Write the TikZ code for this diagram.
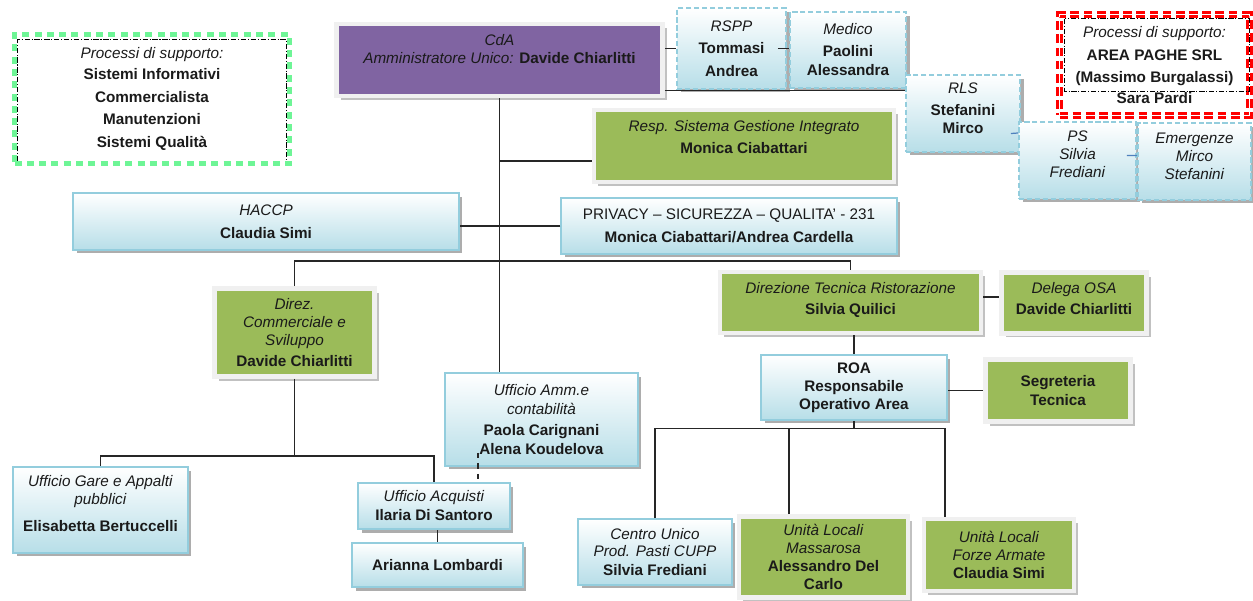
\documentclass[tikz,border=0pt]{standalone}
\usepackage{fontspec}
\setmainfont{Liberation Sans}
\usetikzlibrary{shadows}

\definecolor{textdark}{RGB}{26,26,26}
\definecolor{lineblue}{RGB}{147,205,221}
\definecolor{paleblue}{RGB}{183,222,232}
\definecolor{areagreen}{RGB}{155,187,89}
\definecolor{cdapurple}{RGB}{128,100,162}
\definecolor{framegray}{RGB}{240,240,240}
\definecolor{mint}{RGB}{110,245,150}
\definecolor{linkdark}{RGB}{38,38,38}
\definecolor{linkblue}{RGB}{79,129,189}

\tikzstyle{txt} = [font=\fontsize{8.7}{10.2}\selectfont, text=textdark, align=center, inner sep=0pt]
\tikzstyle{bluebox} = [txt, rectangle, draw=lineblue, line width=0.9pt, top color=white, bottom color=paleblue, drop shadow={shadow xshift=0.07cm, shadow yshift=-0.07cm, fill=black!40, opacity=0.8}]
\tikzstyle{dashbox} = [bluebox, line width=1.1pt, dash pattern=on 3pt off 1.5pt]
\tikzstyle{greenbox} = [txt, rectangle, fill=areagreen, draw=framegray, line width=2.8pt, drop shadow={shadow xshift=0.085cm, shadow yshift=-0.085cm, fill=black!30, opacity=0.8}]
\tikzstyle{purplebox} = [greenbox, fill=cdapurple]
\tikzstyle{supportgreen} = [txt, rectangle, draw=mint, line width=3pt, dash pattern=on 4pt off 3pt]
\tikzstyle{supportred} = [txt, rectangle, draw=red, double=white, line width=1.3pt, double distance=0.9pt, dash pattern=on 5pt off 2.5pt]
\tikzstyle{innerframe} = [draw=black, line width=0.5pt, dash pattern=on 3pt off 1pt on 0.6pt off 1pt]
\tikzstyle{link} = [draw=linkdark, line width=0.7pt]
\tikzstyle{bluelink} = [draw=linkblue, line width=0.7pt]

\begin{document}
\begin{tikzpicture}[x=0.02cm, y=-0.02cm]
  \useasboundingbox (0,0) rectangle (1253,601);

  % support processes
  \node (supL) [supportgreen, minimum width=5.5cm, minimum height=2.58cm] at (152,99) {\textit{Processi di supporto:}\\[1.7pt]\textbf{Sistemi Informativi}\\[2.8pt]\textbf{Commercialista}\\[2.8pt]\textbf{Manutenzioni}\\[2.8pt]\textbf{Sistemi Qualità}};
  \node (supR) [supportred, minimum width=3.8cm, minimum height=2.02cm] at (1154.5,65) {\textit{Processi di supporto:}\\[2.8pt]\textbf{AREA PAGHE SRL}\\[2.3pt]\textbf{(Massimo Burgalassi)}\\[1.7pt]\textbf{Sara Pardi}};
  \draw [innerframe] ([shift={(6,-5)}]supL.south west) -- ([shift={(6,8)}]supL.north west) -- ([shift={(-6,8)}]supL.north east) -- ([shift={(-6,-5)}]supL.south east);
  \draw [innerframe] ([shift={(6.5,5.5)}]supR.north west) rectangle ([shift={(-1.5,-25.5)}]supR.south east);

  % top level
  \node (cda) [purplebox, minimum width=6.52cm, minimum height=1.44cm, text depth=13pt] at (499.5,60) {\textit{CdA}\\\textit{Amministratore Unico:} \textbf{Davide Chiarlitti}};
  \node (rspp) [dashbox, minimum width=2.18cm, minimum height=1.62cm] at (731.5,48.5) {\textit{RSPP}\\[2.3pt]\textbf{Tommasi}\\[2.8pt]\textbf{Andrea}};
  \node (medico) [dashbox, minimum width=2.32cm, minimum height=1.52cm] at (848,50) {\textit{Medico}\\[2.3pt]\textbf{Paolini}\\[0.6pt]\textbf{Alessandra}};
  \node (rls) [dashbox, minimum width=2.28cm, minimum height=1.54cm, text depth=6pt] at (963,113.5) {\textit{RLS}\\[2.3pt]\textbf{Stefanini}\\\textbf{Mirco}};
  \node (ps) [dashbox, minimum width=2.34cm, minimum height=1.54cm, text depth=7pt] at (1077.5,160.5) {\textit{PS}\\\textit{Silvia}\\\textit{Frediani}};
  \node (emerg) [dashbox, minimum width=2.26cm, minimum height=1.54cm, text depth=6pt] at (1194.5,161.5) {\textit{Emergenze}\\\textit{Mirco}\\\textit{Stefanini}};
  \node (sgi) [greenbox, minimum width=6.0cm, minimum height=1.44cm, text depth=10.5pt] at (744,146) {\textit{Resp. Sistema Gestione Integrato}\\[2.3pt]\textbf{Monica Ciabattari}};
  \node (haccp) [bluebox, minimum width=7.72cm, minimum height=1.14cm] at (266,221.5) {\textit{HACCP}\\[2.8pt]\textbf{Claudia Simi}};
  \node (privacy) [bluebox, minimum width=6.72cm, minimum height=1.12cm] at (729,226) {PRIVACY -- SICUREZZA -- QUALITA' - 231\\[2.8pt]\textbf{Monica Ciabattari/Andrea Cardella}};

  % directions
  \node (dircomm) [greenbox, minimum width=3.2cm, minimum height=1.76cm] at (294.5,332.5) {\textit{Direz.}\\\textit{Commerciale e}\\\textit{Sviluppo}\\[1.7pt]\textbf{Davide Chiarlitti}};
  \node (dirtec) [greenbox, minimum width=5.22cm, minimum height=1.22cm, text depth=5pt] at (850.5,302.5) {\textit{Direzione Tecnica Ristorazione}\\[1.7pt]\textbf{Silvia Quilici}};
  \node (delega) [greenbox, minimum width=2.91cm, minimum height=1.21cm, text depth=5pt] at (1074,303) {\textit{Delega OSA}\\[1.7pt]\textbf{Davide Chiarlitti}};
  \node (amm) [bluebox, minimum width=3.86cm, minimum height=1.86cm] at (541.5,419.5) {\textit{Ufficio Amm.e}\\[1.1pt]\textit{contabilità}\\[1.7pt]\textbf{Paola Carignani}\\[0.6pt]\textbf{Alena Koudelova}};
  \node (roa) [bluebox, minimum width=3.72cm, minimum height=1.3cm] at (854,387.5) {\textbf{ROA}\\\textbf{Responsabile}\\\textbf{Operativo Area}};
  \node (segr) [greenbox, minimum width=2.9cm, minimum height=1.24cm] at (1058,390.5) {\textbf{Segreteria}\\[0.6pt]\textbf{Tecnica}};

  % offices
  \node (gare) [bluebox, minimum width=3.5cm, minimum height=1.72cm, text depth=7pt] at (100.5,510) {\textit{Ufficio Gare e Appalti}\\\textit{pubblici}\\[5.1pt]\textbf{Elisabetta Bertuccelli}};
  \node (acq) [bluebox, minimum width=3.04cm, minimum height=0.92cm] at (434,506) {\textit{Ufficio Acquisti}\\[0.6pt]\textbf{Ilaria Di Santoro}};
  \node (ari) [bluebox, minimum width=3.42cm, minimum height=0.88cm] at (437.5,565) {\textbf{Arianna Lombardi}};
  \node (centro) [bluebox, minimum width=3.08cm, minimum height=1.32cm] at (655,552) {\textit{Centro Unico}\\\textit{Prod. Pasti CUPP}\\[0.6pt]\textbf{Silvia Frediani}};
  \node (mass) [greenbox, minimum width=3.38cm, minimum height=1.62cm] at (823.5,557) {\textit{Unità Locali}\\\textit{Massarosa}\\\textbf{Alessandro Del}\\\textbf{Carlo}};
  \node (forze) [greenbox, minimum width=3.0cm, minimum height=1.44cm] at (999,555) {\textit{Unità Locali}\\\textit{Forze Armate}\\\textbf{Claudia Simi}};

  % links
  \draw [link] (rspp.west) -- (rspp.west -| cda.east);
  \draw [link] ([xshift=-0.18cm]rspp.east) -- (medico.west |- rspp.east);
  \coordinate (cdalow) at ([yshift=0.16cm]cda.south east);
  \draw [link] (cdalow) -- (cdalow -| rls.west);
  \draw [bluelink] ([xshift=-0.2cm,yshift=-0.4cm]rls.east) -- ([yshift=0.55cm]ps.west);
  \draw [bluelink] ([xshift=-0.2cm,yshift=0.1cm]ps.east) -- ([yshift=0.12cm]emerg.west);
  \draw [link] (cda.south) -- (cda.south |- amm.north);
  \coordinate (sgilink) at ([yshift=-0.3cm]sgi.west);
  \draw [link] (sgilink) -- (sgilink -| cda.south);
  \draw [link] (privacy.west) -- (privacy.west -| haccp.east);
  \draw [link] (dircomm.north) -- ++(0,-25) -| (dirtec.north);
  \coordinate (osalink) at ([yshift=0.11cm]dirtec.east);
  \draw [link] (osalink) -- (osalink -| delega.west);
  \draw [link] (roa.north) -- (roa.north |- dirtec.south);
  \draw [link] (segr.west) -- (segr.west -| roa.east);
  \draw [link] (roa.south) -- ++(0,8) coordinate (roabus);
  \draw [link] (centro.north) |- (roabus) -| ([xshift=-1.08cm]forze.north);
  \coordinate (masstop) at ([xshift=-0.69cm]mass.north);
  \draw [link] (masstop) -- (masstop |- roabus);
  \draw [link] (dircomm.south) -- ++(0,77) coordinate (lowbus);
  \draw [link] (gare.north) |- (lowbus) -| (acq.north);
  \coordinate (ammdash) at ([xshift=-1.27cm,yshift=0.28cm]amm.south);
  \draw [link, dashed] (ammdash) -- (ammdash |- acq.north);
  \draw [link] (ari.north) -- (ari.north |- acq.south);
\end{tikzpicture}
\end{document}
